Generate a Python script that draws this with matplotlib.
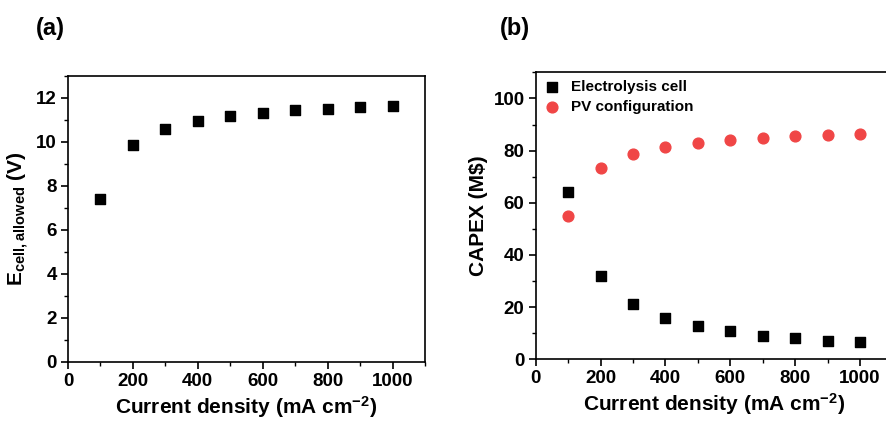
import matplotlib
matplotlib.use('Agg')
import matplotlib.pyplot as plt
from matplotlib.ticker import MultipleLocator

plt.rcParams['font.family'] = ['Liberation Sans', 'DejaVu Sans']
plt.rcParams['font.weight'] = 'bold'
plt.rcParams['mathtext.default'] = 'regular'

current = [100, 200, 300, 400, 500, 600, 700, 800, 900, 1000]
e_cell = [7.4, 9.85, 10.6, 10.95, 11.18, 11.32, 11.43, 11.5, 11.57, 11.62]
capex_cell = [64, 32, 21.2, 16, 12.8, 10.7, 9.1, 8.0, 7.1, 6.5]
capex_pv = [55, 73.2, 78.8, 81.4, 83.0, 84.2, 85.0, 85.6, 86.0, 86.3]

fig = plt.figure(figsize=(8.86, 4.22), dpi=100)
ax1 = fig.add_axes([0.0767, 0.1422, 0.403, 0.678])
ax2 = fig.add_axes([0.6046, 0.1486, 0.4026, 0.680])


def style(ax, ymajor, yminor):
    ax.set_xlim(0, 1100)
    ax.xaxis.set_major_locator(MultipleLocator(200))
    ax.xaxis.set_minor_locator(MultipleLocator(100))
    ax.yaxis.set_major_locator(MultipleLocator(ymajor))
    ax.yaxis.set_minor_locator(MultipleLocator(yminor))
    ax.tick_params(which='major', direction='out', length=5, width=1.2, labelsize=13.5, pad=3)
    ax.tick_params(which='minor', direction='out', length=3, width=1)
    for s in ax.spines.values():
        s.set_linewidth(1.2)
    ax.set_xlabel('Current density (mA cm$^{-2}$)', fontsize=15, fontweight='bold', labelpad=3)


ax1.scatter(current, e_cell, marker='s', s=55, color='black', zorder=3)
ax1.set_ylim(0, 13)
style(ax1, 2, 1)
ax1.set_ylabel('E$_{cell, allowed}$ (V)', fontsize=15, fontweight='bold', labelpad=4)

ax2.scatter(current, capex_cell, marker='s', s=55, color='black', zorder=3, label='Electrolysis cell')
ax2.scatter(current, capex_pv, marker='o', s=60, color='#f04646', zorder=3, label='PV configuration')
ax2.set_ylim(0, 110)
style(ax2, 20, 10)
ax2.set_ylabel('CAPEX (M$)', fontsize=15, fontweight='bold', labelpad=4)
ax2.legend(loc='upper left', frameon=False, fontsize=11, handletextpad=0.6,
           borderaxespad=0.1, labelspacing=0.4, handlelength=1.2)

fig.text(0.04, 0.918, '(a)', fontsize=17, fontweight='bold')
fig.text(0.564, 0.918, '(b)', fontsize=17, fontweight='bold')

fig.savefig('out.png', dpi=100)
